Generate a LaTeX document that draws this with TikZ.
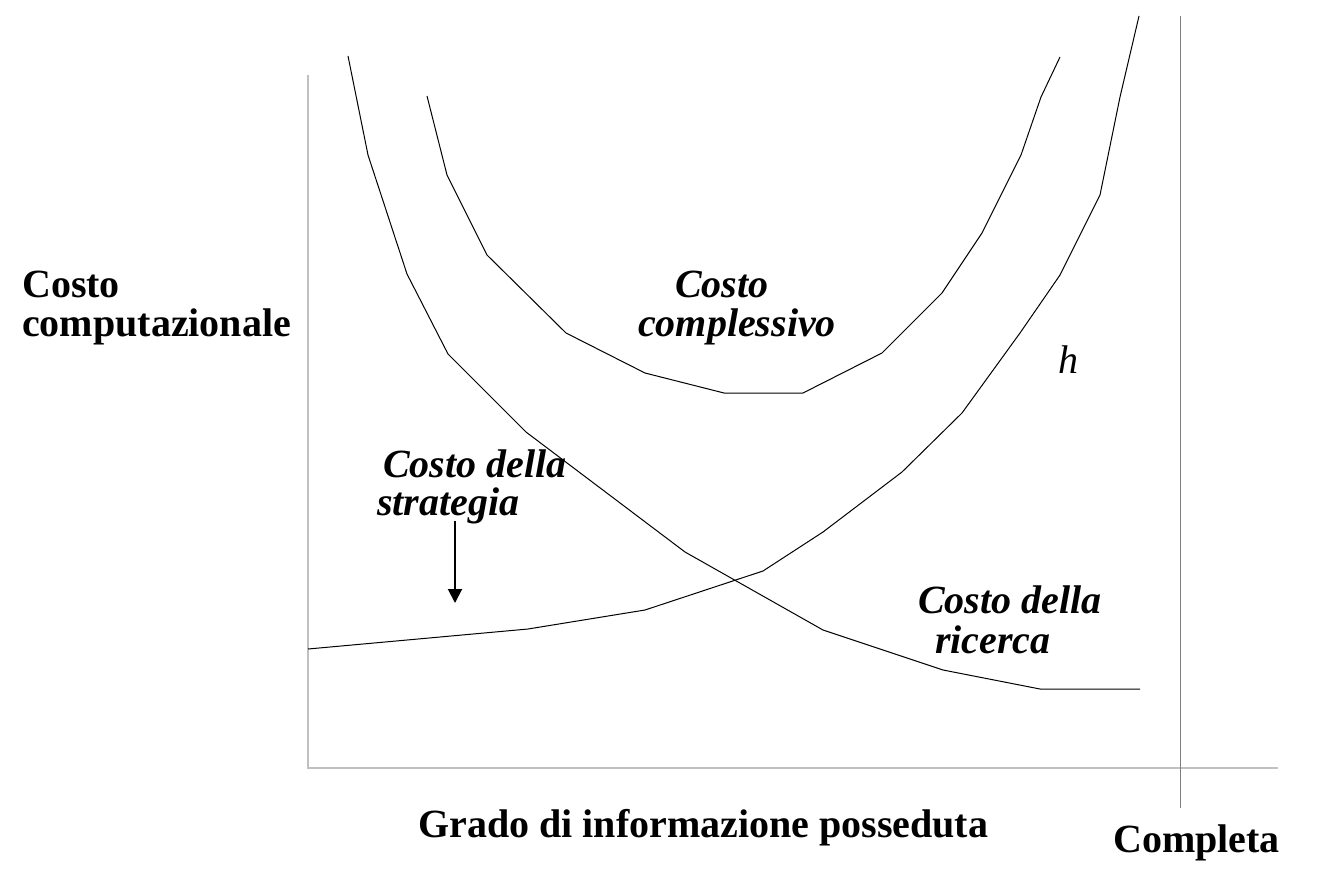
\documentclass[tikz,border=0pt]{standalone}
\usepackage{fontspec}
\setmainfont{Liberation Serif}
\usetikzlibrary{arrows.meta}
\definecolor{axisgray}{HTML}{C0C0C0}
\definecolor{linegray}{HTML}{808080}
\begin{document}
\begin{tikzpicture}[x=1pt,y=-1pt,
  lbl/.style={inner sep=0pt, anchor=base west, font=\fontsize{40}{40}\selectfont\bfseries},
  ilbl/.style={inner sep=0pt, anchor=base west, font=\fontsize{40}{40}\selectfont\bfseries\itshape},
  mlbl/.style={inner sep=0pt, anchor=base west, font=\fontsize{40}{40}\selectfont\itshape},
  curve/.style={black, line width=1pt, line join=miter},
  axis/.style={axisgray, line width=1.5pt},
  pointer/.style={black, line width=2pt, -{Triangle[width=14pt,length=14pt]}}]
\useasboundingbox (0,0) rectangle (1320,883);
\fill[white] (0,0) rectangle (1320,883);
% axes
\draw[axis] (308,75) -- (308,768) -- (1278,768);
\draw[linegray, line width=1pt] (1180,16) -- (1180,808);
% curves
\draw[curve] plot coordinates {(348,56) (368,155) (407,274) (448,354) (526,432) (685,552) (823,630) (943,670) (1040,689) (1140,689)};
\draw[curve] plot coordinates {(308,649) (528,629) (645,610) (763,571) (823,532) (902,472) (962,413) (1020,333) (1060,275) (1100,195) (1120,97) (1139,16)};
\draw[curve] plot coordinates {(427,96) (447,175) (487,255) (566,333) (645,373) (724,393) (803,393) (882,353) (942,293) (982,233) (1021,155) (1041,97) (1060,57)};
% labels
\node[lbl] (cc1) at (22,297) {Costo};
\node[lbl] (cc2) at (22,336) {computazionale};
\node[ilbl] (cx1) at (675,297) {Costo};
\node[ilbl] (cx2) at (638,336) {complessivo};
\node[mlbl] (h) at (1058,373) {h};
\node[ilbl] (cs1) at (383,477) {Costo della};
\node[ilbl] (cs2) at (377,515) {strategia};
\node[ilbl] (cr1) at (918,613) {Costo della};
\node[ilbl] (cr2) at (935,653) {ricerca};
\node[lbl] (gx) at (418,837) {Grado di informazione posseduta};
\node[lbl] (cmp) at (1113,852) {Completa};
% arrow
\coordinate (atop) at (455,521);
\coordinate (atip) at (455,603);
\draw[pointer] (atop) -- (atip);
\end{tikzpicture}
\end{document}
